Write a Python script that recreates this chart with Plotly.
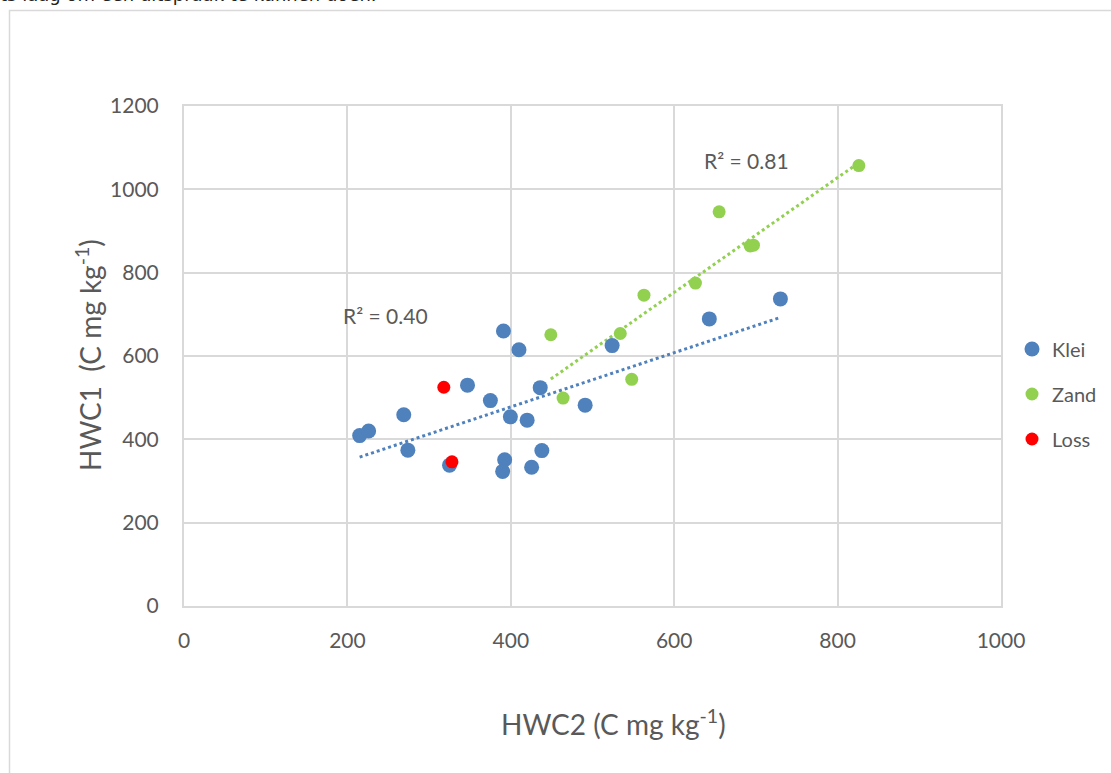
import numpy as np
import plotly.graph_objects as go

# ---- data ----
klei_x = [215, 226, 269, 274, 325, 347, 375, 391, 410, 399.5, 420, 436, 438, 392.5, 390, 425.5, 491, 524, 643, 730]
klei_y = [409, 420, 459, 374, 338, 530, 493, 660, 615, 454, 446, 524, 373, 351, 323, 333, 482, 625, 689, 737]
zand_x = [449, 464, 534, 548, 563, 626, 655, 693, 697, 826]
zand_y = [651, 499, 654, 544, 746, 775, 946, 864, 866, 1057]
loss_x = [318, 328]
loss_y = [525, 346]
r2_labels = ["R² = 0.40", "R² = 0.81"]
x_ticks = [0, 200, 400, 600, 800, 1000]
y_ticks = [0, 200, 400, 600, 800, 1000, 1200]

BLUE = "#4f81bd"
GREEN = "#92d050"
RED = "#ff0000"
GRID = "#d9d9d9"
TXT = "#595959"
FONT = "Lato"


def trend(xs, ys):
    k, b = np.polyfit(xs, ys, 1)
    xx = np.array([min(xs), max(xs)])
    return xx, k * xx + b


fig = go.Figure()

kx, ky = trend(klei_x, klei_y)
zx, zy = trend(zand_x, zand_y)
fig.add_trace(go.Scatter(x=kx, y=ky, mode="lines", line=dict(color=BLUE, width=3, dash="dot"),
                         showlegend=False, hoverinfo="skip"))
fig.add_trace(go.Scatter(x=zx, y=zy, mode="lines", line=dict(color=GREEN, width=3, dash="dot"),
                         showlegend=False, hoverinfo="skip"))

fig.add_trace(go.Scatter(x=klei_x, y=klei_y, mode="markers", name="Klei", legendgroup="a",
                         marker=dict(color=BLUE, size=15)))
fig.add_trace(go.Scatter(x=zand_x, y=zand_y, mode="markers", name="Zand", legendgroup="b",
                         marker=dict(color=GREEN, size=13)))
fig.add_trace(go.Scatter(x=loss_x, y=loss_y, mode="markers", name="Loss", legendgroup="c",
                         marker=dict(color=RED, size=13)))

L, R, T, B = 184, 110, 106, 167
W, H = 1111, 773
pw, ph = W - L - R, H - T - B


def px(xp):
    return (xp - L) / pw


def py(yp):
    return (H - B - yp) / ph


axis_common = dict(showgrid=True, gridcolor=GRID, gridwidth=2, zeroline=False,
                   showline=True, mirror=True, linecolor=GRID, linewidth=2,
                   ticks="", tickfont=dict(family=FONT, size=21, color=TXT))

fig.update_layout(
    width=W, height=H,
    margin=dict(l=L, r=R, t=T, b=B, pad=0, autoexpand=False),
    paper_bgcolor="white", plot_bgcolor="white",
    font=dict(family=FONT, color=TXT),
    xaxis=dict(range=[0, 1000], tickvals=x_ticks, ticklabelstandoff=15, **axis_common),
    yaxis=dict(range=[0, 1200], tickvals=y_ticks, ticklabelstandoff=19, **axis_common),
    legend=dict(x=px(1012), y=py(394), xanchor="left", yanchor="middle",
                font=dict(family=FONT, size=20, color=TXT), tracegroupgap=16,
                itemwidth=30, bgcolor="rgba(0,0,0,0)"),
    showlegend=True,
)


def ann(text, xp, yp, size, **kw):
    d = dict(text=text, x=px(xp), y=py(yp), xref="paper", yref="paper",
             xanchor="center", yanchor="middle", showarrow=False,
             font=dict(family=FONT, size=size, color=TXT))
    d.update(kw)
    return d


annotations = [
    ann(r2_labels[0], 385, 315, 21),
    ann(r2_labels[1], 746, 160, 21),
    ann("HWC2 (C mg kg<sup>-1</sup>)", 613, 722, 28),
    ann("HWC1  (C mg kg<sup>-1</sup>)", 88, 355, 28, textangle=-90),
    dict(text="ts laag om een uitspraak te kunnen doen.", x=px(-2), y=py(7), xref="paper", yref="paper",
         xanchor="left", yanchor="bottom", showarrow=False,
         font=dict(family="DejaVu Sans", size=18, color="#222222")),
]
fig.update_layout(annotations=annotations)

# outer chart border (partially outside the window)
fig.add_shape(type="rect", xref="paper", yref="paper",
              x0=px(9.5), x1=px(1200), y0=py(900), y1=py(10.5),
              line=dict(color=GRID, width=1.5), fillcolor="rgba(0,0,0,0)", layer="below")

fig.write_html("out.html", config={"displayModeBar": False},
               post_script="document.body.style.margin='0';document.body.style.overflow='hidden';")
